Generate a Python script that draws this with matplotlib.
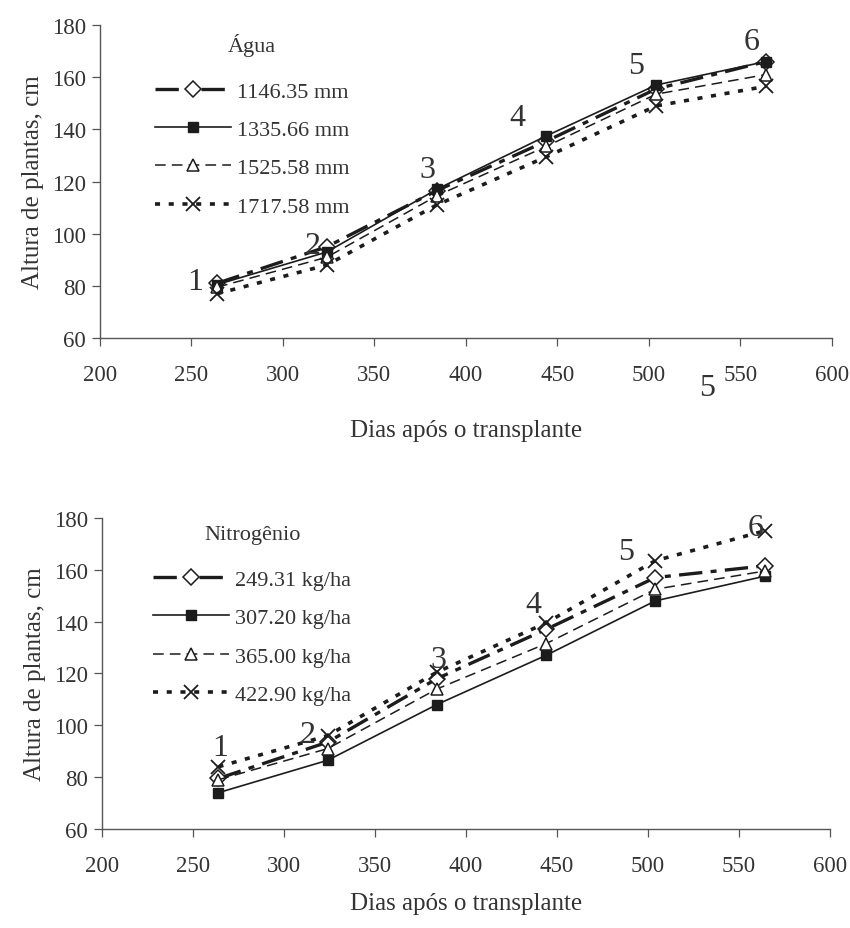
import numpy as np
import matplotlib.pyplot as plt

plt.rcParams['font.family'] = ['Liberation Serif', 'DejaVu Serif']

# dias após o transplante (6 avaliações)
dias = [264, 324, 384, 444, 504, 564]

# Lâminas de água
agua_labels = ['1146.35 mm', '1335.66 mm', '1525.58 mm', '1717.58 mm']
agua_1146 = [81.0, 95.0, 116.5, 135.5, 155.5, 166.0]
agua_1335 = [80.5, 93.0, 117.0, 137.5, 157.0, 166.0]
agua_1525 = [79.5, 91.0, 114.5, 133.5, 153.5, 161.0]
agua_1717 = [77.0, 88.0, 111.0, 129.5, 149.0, 156.5]

# Doses de nitrogênio
nitro_labels = ['249.31 kg/ha', '307.20 kg/ha', '365.00 kg/ha', '422.90 kg/ha']
nitro_249 = [79.5, 93.5, 118.0, 137.0, 157.0, 161.5]
nitro_307 = [74.0, 86.5, 108.0, 127.0, 148.0, 157.5]
nitro_365 = [79.0, 91.0, 114.0, 131.5, 152.5, 159.5]
nitro_422 = [84.0, 96.0, 120.5, 139.5, 163.5, 175.0]

# rótulos das avaliações (posição do número sobre o gráfico)
num_txt = ['1', '2', '3', '4', '5', '6']
num_x_agua = [252, 316, 379, 428, 493, 556]
num_y_agua = [81.5, 95.5, 124.5, 144.5, 164.5, 173.5]
num_x_nitro = [265, 313, 385, 437, 488, 559]
num_y_nitro = [91.5, 96.5, 125.5, 146.5, 167.0, 176.5]

cor = '#1c1c1c'
txt_cor = '#333333'
fs = 16.5

estilos = [
    dict(lw=2.4, dashes=(7, 2.5, 1.8, 2.5), marker='D', ms=8, mfc='white', mec=cor, mew=1.1),
    dict(lw=1.2, ls='-', marker='s', ms=7, mfc=cor, mec=cor),
    dict(lw=1.1, dashes=(7, 4), marker='^', ms=8, mfc='white', mec=cor, mew=1.1),
    dict(lw=2.6, dashes=(1.4, 2.4), marker='x', ms=10, mec=cor, mew=1.3),
]


def grafico(ax, series, labels, titulo, nx, ny, leg_xy, xpad):
    for y, lab, st in zip(series, labels, estilos):
        ax.plot(dias, y, color=cor, label=lab, **st)
    for t, x, y in zip(num_txt, nx, ny):
        ax.text(x, y, t, fontsize=23, ha='center', va='center', color=txt_cor)
    ax.set_xlim(200, 600)
    ax.set_ylim(60, 180)
    ax.set_xticks(np.arange(200, 601, 50))
    ax.set_yticks(np.arange(60, 181, 20))
    for s in ['top', 'right']:
        ax.spines[s].set_visible(False)
    for s in ['left', 'bottom']:
        ax.spines[s].set_color('#555555')
        ax.spines[s].set_linewidth(1.0)
    ax.tick_params(labelsize=fs, length=6, width=0.9, color='#555555',
                   labelcolor=txt_cor)
    ax.tick_params(axis='x', pad=13)
    ax.tick_params(axis='y', pad=4)
    ax.set_xlabel('Dias após o transplante', fontsize=18, color=txt_cor, labelpad=xpad)
    ax.set_ylabel('Altura de plantas, cm', fontsize=18, color=txt_cor, labelpad=6)
    leg = ax.legend(loc='upper left', bbox_to_anchor=leg_xy, frameon=False,
                    title=titulo, prop={'size': 16}, title_fontsize=16,
                    handlelength=3.4, handletextpad=0.3, labelspacing=0.8,
                    borderpad=0, numpoints=1)
    for t in leg.get_texts():
        t.set_color(txt_cor)
    leg.get_title().set_color(txt_cor)
    leg._legend_box.sep = 18


fig = plt.figure(figsize=(8.5, 9.29), dpi=100)
ax1 = fig.add_axes([0.1176, 0.635, 0.861, 0.337])
ax2 = fig.add_axes([0.12, 0.1066, 0.8565, 0.3348])

grafico(ax1, [agua_1146, agua_1335, agua_1525, agua_1717], agua_labels, 'Água',
        num_x_agua, num_y_agua, (0.06, 1.01), 24)
grafico(ax2, [nitro_249, nitro_307, nitro_365, nitro_422], nitro_labels, 'Nitrogênio',
        num_x_nitro, num_y_nitro, (0.055, 1.012), 11)

# "5" solto abaixo do eixo do primeiro gráfico
ax1.text(532, 41, '5', fontsize=23, ha='center', va='center', color=txt_cor, clip_on=False)

fig.savefig('out.png', dpi=100)
